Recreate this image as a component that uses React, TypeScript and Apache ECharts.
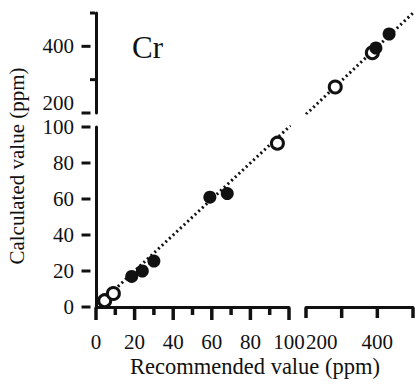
import React, { useEffect, useRef } from "react";
import * as echarts from "echarts";

// Lower-left panel (0–100 ppm)
const lowerFilled: number[][] = [[18.5, 17], [24, 20], [30, 25.5], [59, 61], [68, 63]];
const lowerOpen: number[][] = [[4.5, 3.5], [9, 7.5], [94, 91]];
const lowerLine: number[][] = [[0, 0], [101, 101]];
// Upper-right panel (200–500 ppm)
const upperFilled: number[][] = [[396, 395], [433, 437]];
const upperOpen: number[][] = [[282, 278], [386, 381]];
const upperLine: number[][] = [[200, 196], [500, 500]];

const lowerRange = [0, 100];
const upperRange = [200, 500];
const lowerTicks = [0, 20, 40, 60, 80, 100];
const lowerMinorTicks = [10, 30, 50, 70, 90];
const upperLabels = [200, 400];
const upperNotches = [300, 500];
const upperTicks = [200, 300, 400, 500];

const FONT = "Liberation Serif, Times New Roman, serif";
const INK = "#111";

export default function App() {
  const ref = useRef<HTMLDivElement>(null);
  useEffect(() => {
    if (!ref.current) return;
    const chart = echarts.init(ref.current, undefined, { renderer: "svg" });
    const axisLine = { show: true, onZero: false, lineStyle: { color: INK, width: 3 } };
    const label = { color: INK, fontFamily: FONT, fontSize: 21 };
    const hiddenAxis = (gridIndex: number, r: number[]) => ({
      gridIndex,
      type: "value",
      min: r[0],
      max: r[1],
      show: false,
    });
    const visAxis = (gridIndex: number, r: number[], interval: number, labelExtra: object) => ({
      gridIndex,
      type: "value",
      min: r[0],
      max: r[1],
      interval,
      axisLine,
      axisTick: { show: false },
      axisLabel: { ...label, ...labelExtra },
      splitLine: { show: false },
    });
    const only = (v: number) => (upperLabels.includes(v) ? String(v) : "");
    const filled = { symbol: "circle", symbolSize: 13, itemStyle: { color: INK, opacity: 1 } };
    const open = {
      symbol: "circle",
      symbolSize: 12,
      itemStyle: { color: "#fff", borderColor: INK, borderWidth: 3, opacity: 1 },
    };
    const dotted = {
      type: "line",
      symbol: "none",
      lineStyle: { color: INK, width: 3, type: [2, 3] },
    };
    const tickSeries = (
      xi: number,
      data: number[][],
      size: number[],
      offset: number[]
    ) => ({
      type: "scatter",
      xAxisIndex: xi,
      yAxisIndex: xi,
      data,
      symbol: "rect",
      symbolSize: size,
      symbolOffset: offset,
      clip: false,
      silent: true,
      itemStyle: { color: INK, opacity: 1 },
      z: 5,
    });
    chart.setOption({
      animation: false,
      backgroundColor: "#fff",
      grid: [
        { left: 96, top: 127, width: 193, height: 180 }, // 0 lower-left (data + axes)
        { left: 306, top: 13, width: 107, height: 100 }, // 1 upper-right (data)
        { left: 96, top: 13, width: 193, height: 100 }, // 2 upper-left (upper y axis)
        { left: 306, top: 127, width: 107, height: 180 }, // 3 lower-right (right x axis)
      ],
      xAxis: [
        visAxis(0, lowerRange, 20, { margin: 24 }),
        hiddenAxis(1, upperRange),
        hiddenAxis(2, lowerRange),
        visAxis(3, upperRange, 100, { margin: 24, alignMinLabel: "left", formatter: only }),
      ],
      yAxis: [
        visAxis(0, lowerRange, 20, { margin: 22 }),
        hiddenAxis(1, upperRange),
        visAxis(2, upperRange, 100, { margin: 22, verticalAlignMinLabel: "bottom", formatter: only }),
        hiddenAxis(3, lowerRange),
      ],
      series: [
        { ...dotted, xAxisIndex: 0, yAxisIndex: 0, data: lowerLine, z: 1 },
        { ...dotted, xAxisIndex: 1, yAxisIndex: 1, data: upperLine, z: 1 },
        { type: "scatter", xAxisIndex: 0, yAxisIndex: 0, data: lowerFilled, ...filled, z: 3 },
        { type: "scatter", xAxisIndex: 0, yAxisIndex: 0, data: lowerOpen, ...open, z: 4 },
        { type: "scatter", xAxisIndex: 1, yAxisIndex: 1, data: upperOpen, ...open, z: 3 },
        { type: "scatter", xAxisIndex: 1, yAxisIndex: 1, data: upperFilled, ...filled, z: 4 },
        // axis ticks, placed through the axes' own scales
        tickSeries(0, lowerTicks.map((v) => [lowerRange[0], v]), [9, 3], [-10, 0]),
        tickSeries(0, lowerTicks.map((v) => [v, lowerRange[0]]), [3.5, 12], [0, 7]),
        tickSeries(0, lowerMinorTicks.map((v) => [v, lowerRange[0]]), [3.5, 7], [0, 4.5]),
        tickSeries(2, upperLabels.map((v) => [lowerRange[0], v]), [9, 3], [-10, 0]),
        tickSeries(2, upperNotches.map((v) => [lowerRange[0], v]), [5, 3], [-3.5, 0]),
        tickSeries(3, upperTicks.map((v) => [v, lowerRange[0]]), [3.5, 10], [0, 6]),
      ],
      graphic: [
        {
          type: "text",
          left: 132,
          top: 32,
          style: { text: "Cr", fontFamily: FONT, fontSize: 31, fill: INK },
        },
        {
          type: "text",
          x: 255,
          y: 366,
          style: {
            text: "Recommended value (ppm)",
            fontFamily: FONT,
            fontSize: 22.5,
            fill: INK,
            align: "center",
            verticalAlign: "middle",
          },
        },
        {
          type: "text",
          x: 17,
          y: 166,
          rotation: Math.PI / 2,
          style: {
            text: "Calculated value (ppm)",
            fontFamily: FONT,
            fontSize: 21,
            fill: INK,
            align: "center",
            verticalAlign: "middle",
          },
        },
      ],
    });
    return () => chart.dispose();
  }, []);
  return <div ref={ref} style={{ width: 417, height: 389, position: "absolute", left: 0, top: 0 }} />;
}
